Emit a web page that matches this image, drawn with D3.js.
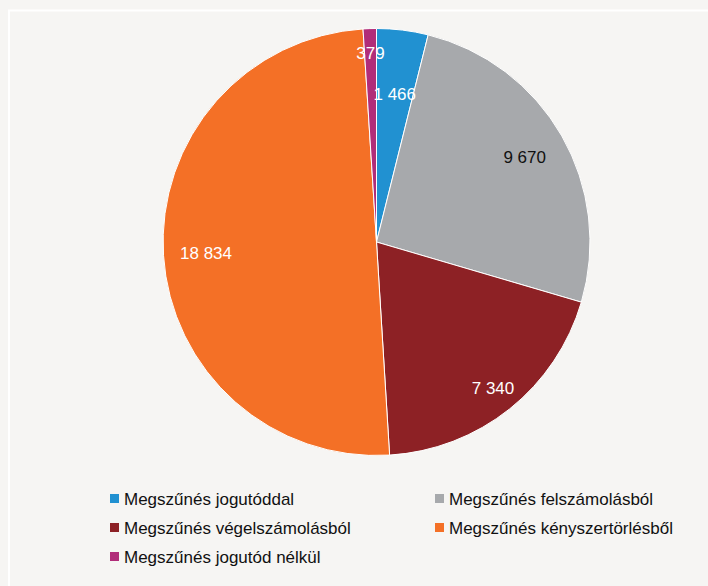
<!DOCTYPE html>
<html>
<head>
<meta charset="utf-8">
<script src="https://cdn.jsdelivr.net/npm/d3@7"></script>
<style>
  html, body { margin: 0; padding: 0; background: #f6f5f3; }
  svg { display: block; font-family: "Liberation Sans", Arial, sans-serif; }
</style>
</head>
<body>
<svg id="chart" width="708" height="586"></svg>
<script>
// Adatok
const categories = [
    "Megszűnés jogutóddal",
    "Megszűnés felszámolásból",
    "Megszűnés végelszámolásból",
    "Megszűnés kényszertörlésből",
    "Megszűnés jogutód nélkül"
];
const values = [1466, 9670, 7340, 18834, 379];
const valueLabels = ["1 466", "9 670", "7 340", "18 834", "379"];
const colors = ["#2191d1", "#a7a9ac", "#8d2125", "#f47026", "#b12d79"];

const svg = d3.select("#chart");
const width = 708, height = 586;

// keret
svg.append("rect")
    .attr("x", 9).attr("y", 10.5)
    .attr("width", width).attr("height", height)
    .attr("fill", "none")
    .attr("stroke", "#ffffff")
    .attr("stroke-width", 2);

const cx = 376.5, cy = 242, radius = 213.5;

const pie = d3.pie().sort(null).value(d => d.value);
const data = categories.map((c, i) => ({ name: c, value: values[i], label: valueLabels[i], color: colors[i] }));
const arcs = pie(data);

const arc = d3.arc().innerRadius(0).outerRadius(radius);

const g = svg.append("g").attr("transform", `translate(${cx},${cy})`);

g.selectAll("path")
    .data(arcs)
    .enter().append("path")
    .attr("d", arc)
    .attr("fill", d => d.data.color)
    .attr("stroke", "#ffffff")
    .attr("stroke-width", 1);

// címkék távolsága a középponttól (sugár arányában)
const labelRadius = [0.70, 0.80, 0.875, 0.80, 0.885];
const labelColor = ["#ffffff", "#111111", "#ffffff", "#ffffff", "#ffffff"];

g.selectAll(".label")
    .data(arcs)
    .enter().append("text")
    .attr("class", "label")
    .attr("transform", (d, i) => {
        const a = (d.startAngle + d.endAngle) / 2;
        const r = radius * labelRadius[i];
        return `translate(${Math.sin(a) * r},${-Math.cos(a) * r})`;
    })
    .attr("text-anchor", "middle")
    .attr("dy", "0.36em")
    .style("font-size", "17px")
    .style("fill", (d, i) => labelColor[i])
    .text(d => d.data.label);

// jelmagyarázat
const legendCols = [110, 435];
const legendRows = [498.5, 527.5, 556.5];

const legend = svg.selectAll(".legend")
    .data(data)
    .enter().append("g")
    .attr("class", "legend")
    .attr("transform", (d, i) => `translate(${legendCols[i % 2]},${legendRows[Math.floor(i / 2)]})`);

legend.append("rect")
    .attr("x", 0).attr("y", -4.5)
    .attr("width", 9).attr("height", 9)
    .attr("fill", d => d.color);

legend.append("text")
    .attr("x", 14)
    .attr("dy", "0.36em")
    .style("font-size", "17px")
    .style("fill", "#111111")
    .text(d => d.name);
</script>
</body>
</html>
